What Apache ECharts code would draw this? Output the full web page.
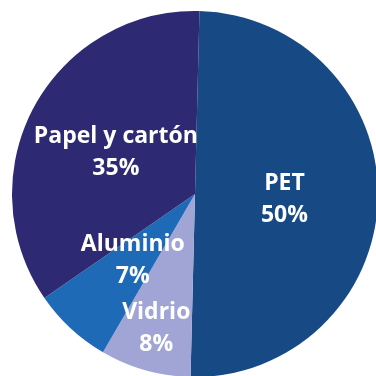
<!DOCTYPE html>
<html>
<head>
<meta charset="utf-8">
<script src="https://cdn.jsdelivr.net/npm/echarts@6/dist/echarts.min.js"></script>
<style>
  html, body { margin: 0; padding: 0; background: #fff; }
  #chart { width: 376px; height: 376px; }
</style>
</head>
<body>
<div id="chart"></div>
<script>
// materiales reciclados (%)
const categories = ['PET', 'Vidrio', 'Aluminio', 'Papel y cartón'];
const values = [50, 8, 7, 35];
const colors = ['#174a85', '#a1a5d5', '#1f6ab7', '#2d2a73'];
// small nudges so labels sit where the original put them
const labelOffsets = [[-5, 3], [-13, 44], [2, -3], [4, 3]];

const chart = echarts.init(document.getElementById('chart'));

const data = categories.map(function(name, i) {
  return {
    name: name,
    value: values[i],
    itemStyle: { color: colors[i] },
    label: { offset: labelOffsets[i] }
  };
});

chart.setOption({
  animation: false,
  series: [{
    type: 'pie',
    center: [195, 194],
    radius: [0, 183],
    startAngle: 88.6,
    clockwise: true,
    silent: true,
    itemStyle: { borderWidth: 0 },
    label: {
      show: true,
      position: 'inside',
      color: '#fff',
      fontFamily: 'Open Sans',
      fontWeight: 'bold',
      fontSize: 23,
      lineHeight: 32,
      formatter: function(p) {
        return p.name + '\n' + p.value + '%';
      }
    },
    labelLine: { show: false },
    data: data
  }]
});
</script>
</body>
</html>
